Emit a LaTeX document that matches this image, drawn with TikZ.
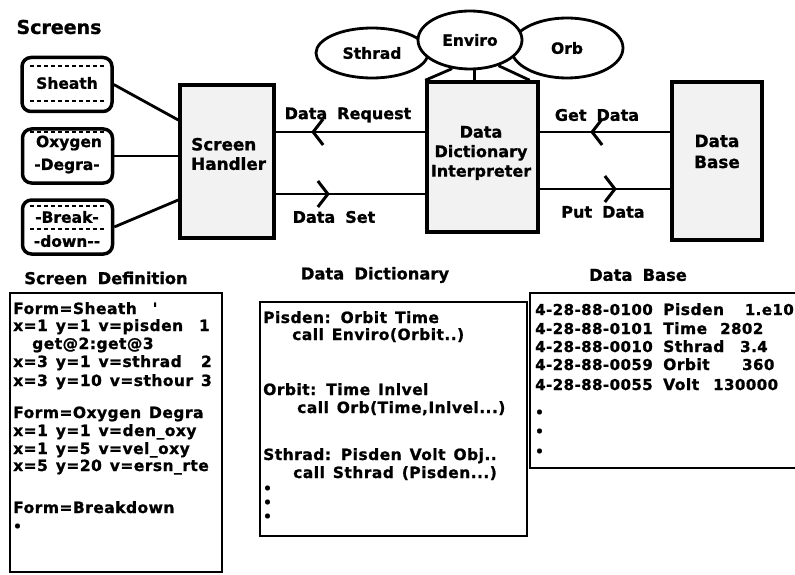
\documentclass[tikz,border=0pt]{standalone}
\usepackage{fontspec}
\setmainfont{DejaVu Sans}
\newfontfamily\hb{DejaVu Sans Bold}[WordSpace=1.8, FakeBold=1]
\newfontfamily\pb{DejaVu Sans Bold}[WordSpace=1.35, LetterSpace=3, FakeBold=1]
\usetikzlibrary{shapes.geometric,arrows.meta,decorations.markings,calc}
\begin{document}
\begin{tikzpicture}[x=1pt,y=-1pt,
  lbl/.style={font=\hb\fontsize{16}{19.5}\selectfont, inner sep=0pt, align=center},
  ttl/.style={font=\hb\fontsize{16.3}{19}\selectfont, inner sep=0pt},
  stext/.style={font=\hb\fontsize{15.5}{17}\selectfont, inner sep=0pt, fill=white},
  txt/.style={font=\pb\fontsize{15.5}{18}\selectfont, inner sep=0pt, anchor=base west},
  dtxt/.style={txt, font=\pb\fontsize{15}{18}\selectfont},
  dot/.style={txt, font=\pb\fontsize{13.5}{14}\selectfont},
  txte/.style={txt, anchor=base east},
  proc/.style={draw, line width=3.5pt, fill=black!5, inner sep=0pt},
  scr/.style={draw, line width=3.5pt, rounded corners=9pt, fill=white, minimum width=90pt, minimum height=54pt, inner sep=0pt},
  bub/.style={ellipse, draw, line width=2.8pt, fill=white, inner sep=0pt, font=\hb\fontsize{15.5}{18}\selectfont},
  conn/.style={line width=2.8pt},
  dsh/.style={line width=2.4pt, dash pattern=on 4pt off 3pt},
  panel/.style={draw, line width=2.5pt, inner sep=0pt},
  flowarrow/.style={conn, postaction={decorate}, decoration={markings, mark=at position #1 with {\arrow{Straight Barb[length=10pt,width=26pt,line width=3pt]}}}}
]
\useasboundingbox (0,0) rectangle (795,575);
\fill[white] (0,0) rectangle (795,575);

% ---------- screens ----------
\node[ttl, font=\hb\fontsize{19}{22}\selectfont] (tscr) at (59,27) {Screens};
\node[scr] (s1) at (67,84.5) {};
\node[scr] (s2) at (67.5,156) {};
\node[scr] (s3) at (67.5,227) {};
\draw[dsh] (30,66) -- (106,66);
\draw[dsh] (30,101) -- (106,101);
\node[stext] (s1t) at (67,83) {Sheath};
\draw[dsh] (30,132) -- (106,132);
\node[stext] (s2a) at (69,143) {Oxygen};
\node[stext] (s2b) at (67,166) {-Degra-};
\draw[dsh] (30,206) -- (106,206);
\draw[dsh] (30,229) -- (106,229);
\node[stext] (s3a) at (67,217) {-Break-};
\node[stext] (s3b) at (67,241) {-down-{}-};

% ---------- main boxes ----------
\node[proc, minimum width=94pt, minimum height=153pt] (sh) at (227,161.5) {};
\node[lbl, align=left, anchor=west, font=\hb\fontsize{16.8}{19.5}\selectfont] (shl) at (191,154) {Screen\\Handler};
\node[proc, minimum width=111pt, minimum height=150pt] (ddi) at (482.5,157) {};
\node[lbl] (ddil) at (481,153) {Data\\Dictionary\\Interpreter};
\node[proc, minimum width=90pt, minimum height=158pt] (db) at (717,161) {};
\node[lbl, font=\hb\fontsize{16.8}{21}\selectfont] (dbl) at (717,151.5) {Data\\Base};

% ---------- ellipses ----------
\node[bub, minimum width=112pt, minimum height=50pt] (sth) at (372,53) {Sthrad};
\node[bub, minimum width=112pt, minimum height=60pt] (orb) at (567,48) {Orb};
\node[bub, minimum width=104pt, minimum height=58pt] (env) at (470,40) {Enviro};
\draw[conn] (env.-122) -- (ddi.north west);
\draw[conn] (env.-82) -- (env.-82 |- ddi.north);
\draw[conn] (env.-42) -- ($(ddi.north east)+(-10,0)$);

% ---------- screen connectors ----------
\coordinate (h1) at (0,120);
\coordinate (h3) at (0,200);
\draw[conn] (s1.east) -- (sh.west |- h1);
\draw[conn] (s2.east) -- (sh.west |- s2.east);
\draw[conn] (s3.east) -- (sh.west |- h3);

% ---------- data flows ----------
\coordinate (yreq) at (0,132);
\coordinate (yset) at (0,194);
\coordinate (yget) at (0,132);
\coordinate (yput) at (0,189);
\draw[flowarrow=114pt] (ddi.west |- yreq) -- (sh.east |- yreq);
\draw[flowarrow=54pt] (sh.east |- yset) -- (ddi.west |- yset);
\draw[flowarrow=80pt] (db.west |- yget) -- (ddi.east |- yget);
\draw[flowarrow=77pt] (ddi.east |- yput) -- (db.west |- yput);
\node[lbl] (lreq) at (348,115) {Data Request};
\node[lbl] (lset) at (334,217) {Data Set};
\node[lbl] (lget) at (597,115) {Get Data};
\node[lbl] (lput) at (603,212) {Put Data};

% ---------- Screen Definition ----------
\node[ttl] (tsd) at (106,278) {Screen Definition};
\node[panel, minimum width=212pt, minimum height=279pt] (sdp) at (116,432.5) {};
\foreach \x/\y/\t [count=\i] in {
  13/314/{Form=Sheath \ '},
  13/331/{x=1 y=1 v=pisden},
  32/349/{get@2:get@3},
  13/367/{x=3 y=1 v=sthrad},
  13/386/{x=3 y=10 v=sthour},
  13/418/{Form=Oxygen Degra},
  13/436/{x=1 y=1 v=den\_oxy},
  13/454/{x=1 y=5 v=vel\_oxy},
  13/471/{x=5 y=20 v=ersn\_rte},
  13/513/{Form=Breakdown}}
  \node[txt] (sd\i) at (\x,\y) {\t};
\node[dot] (sddot) at (13,531) {•};
\node[txte] (sdn1) at (210,331) {1};
\node[txte] (sdn2) at (212,367) {2};
\node[txte] (sdn3) at (212,386) {3};

% ---------- Data Dictionary ----------
\node[ttl] (tdd) at (375,275) {Data Dictionary};
\node[panel, minimum width=267pt, minimum height=234pt] (ddp) at (393.5,419) {};
\foreach \x/\y/\t [count=\i] in {
  263/323/{Pisden: Orbit Time},
  292/340/{call Enviro(Orbit..)},
  263/395/{Orbit: Time Inlvel},
  297/413/{call Orb(Time,Inlvel...)},
  263/460/{Sthrad: Pisden Volt Obj..},
  293/478/{call Sthrad (Pisden...)}}
  \node[txt] (dd\i) at (\x,\y) {\t};
\foreach \y [count=\i] in {493,507,521}
  \node[dot] (dddot\i) at (263,\y) {•};

% ---------- Data Base ----------
\node[ttl] (tdb) at (638,275) {Data Base};
\node[panel, minimum width=270pt, minimum height=175pt] (dbp) at (665,380.5) {};
\node[dtxt] (dbr1a) at (535,315) {4-28-88-0100};
\node[txt] (dbr1b) at (663,315) {Pisden};
\node[dtxt, anchor=base east] (dbr1c) at (794,315) {1.e10};
\node[dtxt] (dbr2a) at (535,334) {4-28-88-0101};
\node[txt] (dbr2b) at (663,334) {Time};
\node[dtxt] (dbr2c) at (720,334) {2802};
\node[dtxt] (dbr3a) at (535,352) {4-28-88-0010};
\node[txt] (dbr3b) at (663,352) {Sthrad};
\node[dtxt] (dbr3c) at (740,352) {3.4};
\node[dtxt] (dbr4a) at (535,370) {4-28-88-0059};
\node[txt] (dbr4b) at (663,370) {Orbit};
\node[dtxt] (dbr4c) at (742,370) {360};
\node[dtxt] (dbr5a) at (535,390) {4-28-88-0055};
\node[txt] (dbr5b) at (663,390) {Volt};
\node[dtxt] (dbr5c) at (713,390) {130000};
\foreach \y [count=\i] in {417,436,456}
  \node[dot] (dbd\i) at (535,\y) {•};
\end{tikzpicture}
\end{document}
